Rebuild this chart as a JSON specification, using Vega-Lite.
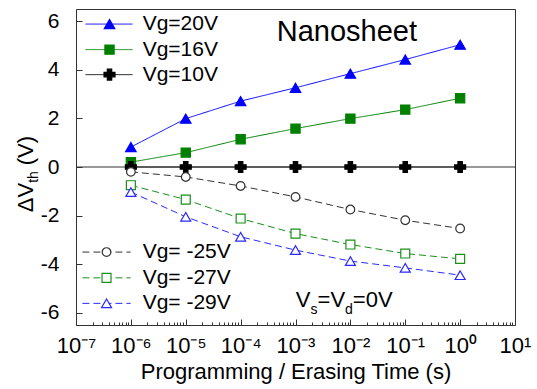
{
  "$schema": "https://vega.github.io/schema/vega-lite/v6.json",
  "width": 439,
  "height": 316,
  "autosize": {"type": "none"},
  "padding": {"left": 76, "top": 9, "right": 22, "bottom": 64},
  "background": "white",
  "data": {"values": [{"note": "annotation"}]},
  "config": {
    "view": {"stroke": "#333333", "strokeWidth": 1},
    "font": "Liberation Sans",
    "axis": {"grid": false, "domain": false}
  },
  "datasets": {
    "main": [
      {"t": 1e-6, "dv": 0.82, "s": "Vg=20V"},
      {"t": 1e-5, "dv": 1.99, "s": "Vg=20V"},
      {"t": 1e-4, "dv": 2.71, "s": "Vg=20V"},
      {"t": 1e-3, "dv": 3.26, "s": "Vg=20V"},
      {"t": 1e-2, "dv": 3.84, "s": "Vg=20V"},
      {"t": 1e-1, "dv": 4.42, "s": "Vg=20V"},
      {"t": 1, "dv": 5.03, "s": "Vg=20V"},
      {"t": 1e-6, "dv": 0.20, "s": "Vg=16V"},
      {"t": 1e-5, "dv": 0.59, "s": "Vg=16V"},
      {"t": 1e-4, "dv": 1.14, "s": "Vg=16V"},
      {"t": 1e-3, "dv": 1.58, "s": "Vg=16V"},
      {"t": 1e-2, "dv": 1.99, "s": "Vg=16V"},
      {"t": 1e-1, "dv": 2.36, "s": "Vg=16V"},
      {"t": 1, "dv": 2.83, "s": "Vg=16V"},
      {"t": 1e-6, "dv": 0, "s": "Vg=10V"},
      {"t": 1e-5, "dv": 0, "s": "Vg=10V"},
      {"t": 1e-4, "dv": 0, "s": "Vg=10V"},
      {"t": 1e-3, "dv": 0, "s": "Vg=10V"},
      {"t": 1e-2, "dv": 0, "s": "Vg=10V"},
      {"t": 1e-1, "dv": 0, "s": "Vg=10V"},
      {"t": 1, "dv": 0, "s": "Vg=10V"},
      {"t": 1e-6, "dv": -0.20, "s": "Vg= -25V"},
      {"t": 1e-5, "dv": -0.41, "s": "Vg= -25V"},
      {"t": 1e-4, "dv": -0.78, "s": "Vg= -25V"},
      {"t": 1e-3, "dv": -1.23, "s": "Vg= -25V"},
      {"t": 1e-2, "dv": -1.75, "s": "Vg= -25V"},
      {"t": 1e-1, "dv": -2.19, "s": "Vg= -25V"},
      {"t": 1, "dv": -2.53, "s": "Vg= -25V"},
      {"t": 1e-6, "dv": -0.75, "s": "Vg= -27V"},
      {"t": 1e-5, "dv": -1.34, "s": "Vg= -27V"},
      {"t": 1e-4, "dv": -2.12, "s": "Vg= -27V"},
      {"t": 1e-3, "dv": -2.74, "s": "Vg= -27V"},
      {"t": 1e-2, "dv": -3.19, "s": "Vg= -27V"},
      {"t": 1e-1, "dv": -3.56, "s": "Vg= -27V"},
      {"t": 1, "dv": -3.78, "s": "Vg= -27V"},
      {"t": 1e-6, "dv": -1.03, "s": "Vg= -29V"},
      {"t": 1e-5, "dv": -2.05, "s": "Vg= -29V"},
      {"t": 1e-4, "dv": -2.87, "s": "Vg= -29V"},
      {"t": 1e-3, "dv": -3.42, "s": "Vg= -29V"},
      {"t": 1e-2, "dv": -3.87, "s": "Vg= -29V"},
      {"t": 1e-1, "dv": -4.15, "s": "Vg= -29V"},
      {"t": 1, "dv": -4.45, "s": "Vg= -29V"}
    ],
    "legend": [
      {"s": "Vg=20V", "g": "top", "y": 5.88},
      {"s": "Vg=16V", "g": "top", "y": 4.83},
      {"s": "Vg=10V", "g": "top", "y": 3.80},
      {"s": "Vg= -25V", "g": "bottom", "y": -3.50},
      {"s": "Vg= -27V", "g": "bottom", "y": -4.56},
      {"s": "Vg= -29V", "g": "bottom", "y": -5.61}
    ]
  },
  "layer": [
    {
      "data": {"name": "main"},
      "mark": {"type": "line", "strokeWidth": 1},
      "encoding": {
        "x": {
          "field": "t", "type": "quantitative",
          "scale": {"type": "log", "domain": [1e-7, 10], "nice": false},
          "axis": {
            "values": [1e-7, 2e-7, 3e-7, 4e-7, 5e-7, 6e-7, 7e-7, 8e-7, 9e-7,
                       1e-6, 2e-6, 3e-6, 4e-6, 5e-6, 6e-6, 7e-6, 8e-6, 9e-6,
                       1e-5, 2e-5, 3e-5, 4e-5, 5e-5, 6e-5, 7e-5, 8e-5, 9e-5,
                       1e-4, 2e-4, 3e-4, 4e-4, 5e-4, 6e-4, 7e-4, 8e-4, 9e-4,
                       1e-3, 2e-3, 3e-3, 4e-3, 5e-3, 6e-3, 7e-3, 8e-3, 9e-3,
                       1e-2, 2e-2, 3e-2, 4e-2, 5e-2, 6e-2, 7e-2, 8e-2, 9e-2,
                       1e-1, 2e-1, 3e-1, 4e-1, 5e-1, 6e-1, 7e-1, 8e-1, 9e-1,
                       1, 2, 3, 4, 5, 6, 7, 8, 9, 10],
            "labelExpr": "abs(log(datum.value)/LN10 - round(log(datum.value)/LN10)) < 0.001 ? '10' + ['⁻⁷','⁻⁶','⁻⁵','⁻⁴','⁻³','⁻²','⁻¹','⁰','¹'][round(log(datum.value)/LN10) + 7] : ''",
            "tickSize": {"condition": {"test": "abs(log(datum.value)/LN10 - round(log(datum.value)/LN10)) < 0.001", "value": -6}, "value": -3},
            "tickColor": "#333333",
            "labelFontSize": 22,
            "labelColor": "black",
            "labelFlush": false,
            "labelOverlap": false,
            "labelPadding": 16,
            "title": "Programming / Erasing Time (s)",
            "titleFontSize": 22,
            "titleFontWeight": "normal",
            "titleColor": "black",
            "titlePadding": 2
          }
        },
        "y": {
          "field": "dv", "type": "quantitative",
          "scale": {"domain": [-6.5, 6.5], "nice": false, "zero": false},
          "axis": {
            "values": [-6, -4, -2, 0, 2, 4, 6],
            "labelExpr": "'' + datum.value",
            "tickSize": -6,
            "tickColor": "#333333",
            "labelFontSize": 21,
            "labelColor": "black",
            "labelPadding": 23,
            "labelFlush": false,
            "title": null
          }
        },
        "detail": {"field": "s", "type": "nominal"},
        "stroke": {
          "field": "s", "type": "nominal", "legend": null,
          "scale": {"domain": ["Vg=20V", "Vg=16V", "Vg=10V", "Vg= -25V", "Vg= -27V", "Vg= -29V"],
                    "range": ["#0000ff", "#008000", "#000000", "#333333", "#1a8f1a", "#2a2aff"]}
        },
        "strokeDash": {
          "field": "s", "type": "nominal", "legend": null,
          "scale": {"domain": ["Vg=20V", "Vg=16V", "Vg=10V", "Vg= -25V", "Vg= -27V", "Vg= -29V"],
                    "range": [[1, 0], [1, 0], [1, 0], [7, 4], [7, 4], [7, 4]]}
        }
      }
    },
    {
      "mark": {"type": "rule", "color": "#333333", "strokeWidth": 1},
      "encoding": {
        "y": {"datum": 0, "type": "quantitative"}
      }
    },
    {
      "data": {"name": "main"},
      "mark": {"type": "point", "filled": true, "strokeWidth": 1.2, "opacity": 1},
      "encoding": {
        "x": {"field": "t", "type": "quantitative"},
        "y": {"field": "dv", "type": "quantitative"},
        "shape": {
          "field": "s", "type": "nominal", "legend": null,
          "scale": {"domain": ["Vg=20V", "Vg=16V", "Vg=10V", "Vg= -25V", "Vg= -27V", "Vg= -29V"],
                    "range": ["triangle-up", "square", "cross", "circle", "square", "triangle-up"]}
        },
        "fill": {
          "field": "s", "type": "nominal", "legend": null,
          "scale": {"domain": ["Vg=20V", "Vg=16V", "Vg=10V", "Vg= -25V", "Vg= -27V", "Vg= -29V"],
                    "range": ["#0000ff", "#008000", "#000000", "#ffffff", "#ffffff", "#ffffff"]}
        },
        "stroke": {"field": "s", "type": "nominal", "legend": null},
        "size": {
          "field": "s", "type": "nominal", "legend": null,
          "scale": {"type": "ordinal", "domain": ["Vg=20V", "Vg=16V", "Vg=10V", "Vg= -25V", "Vg= -27V", "Vg= -29V"],
                    "range": [110, 85, 120, 75, 80, 100]}
        }
      }
    },
    {
      "data": {"name": "legend"},
      "transform": [{"filter": "datum.g == 'top'"}],
      "mark": {"type": "rule", "strokeWidth": 1},
      "encoding": {
        "x": {"datum": 1.49e-7, "type": "quantitative"},
        "x2": {"datum": 1.07e-6},
        "y": {"field": "y", "type": "quantitative"},
        "stroke": {"field": "s", "type": "nominal", "legend": null},
        "strokeDash": {"field": "s", "type": "nominal", "legend": null}
      }
    },
    {
      "data": {"name": "legend"},
      "transform": [{"filter": "datum.g == 'bottom'"}],
      "mark": {"type": "rule", "strokeWidth": 1},
      "encoding": {
        "x": {"datum": 1.31e-7, "type": "quantitative"},
        "x2": {"datum": 9.9e-7},
        "y": {"field": "y", "type": "quantitative"},
        "stroke": {"field": "s", "type": "nominal", "legend": null},
        "strokeDash": {"field": "s", "type": "nominal", "legend": null}
      }
    },
    {
      "data": {"name": "legend"},
      "transform": [{"filter": "datum.g == 'top'"}],
      "mark": {"type": "point", "filled": true, "strokeWidth": 1.2, "opacity": 1},
      "encoding": {
        "x": {"datum": 4.08e-7, "type": "quantitative"},
        "y": {"field": "y", "type": "quantitative"},
        "shape": {"field": "s", "type": "nominal", "legend": null},
        "fill": {"field": "s", "type": "nominal", "legend": null},
        "stroke": {"field": "s", "type": "nominal", "legend": null},
        "size": {
          "field": "s", "type": "nominal", "legend": null,
          "scale": {"type": "ordinal", "domain": ["Vg=20V", "Vg=16V", "Vg=10V", "Vg= -25V", "Vg= -27V", "Vg= -29V"],
                    "range": [110, 85, 120, 75, 80, 100]}
        }
      }
    },
    {
      "data": {"name": "legend"},
      "transform": [{"filter": "datum.g == 'bottom'"}],
      "mark": {"type": "point", "filled": true, "strokeWidth": 1.2, "opacity": 1},
      "encoding": {
        "x": {"datum": 3.6e-7, "type": "quantitative"},
        "y": {"field": "y", "type": "quantitative"},
        "shape": {"field": "s", "type": "nominal", "legend": null},
        "fill": {"field": "s", "type": "nominal", "legend": null},
        "stroke": {"field": "s", "type": "nominal", "legend": null},
        "size": {
          "field": "s", "type": "nominal", "legend": null,
          "scale": {"type": "ordinal", "domain": ["Vg=20V", "Vg=16V", "Vg=10V", "Vg= -25V", "Vg= -27V", "Vg= -29V"],
                    "range": [110, 85, 120, 75, 80, 100]}
        }
      }
    },
    {
      "data": {"name": "legend"},
      "mark": {"type": "text", "align": "left", "baseline": "middle", "fontSize": 21, "color": "black"},
      "encoding": {
        "x": {"datum": 1.64e-6, "type": "quantitative"},
        "y": {"field": "y", "type": "quantitative"},
        "text": {"field": "s", "type": "nominal"}
      }
    },
    {
      "mark": {"type": "text", "text": "Nanosheet", "align": "left", "baseline": "alphabetic", "fontSize": 29, "color": "black"},
      "encoding": {
        "x": {"datum": 4.56e-4, "type": "quantitative"},
        "y": {"datum": 5.2, "type": "quantitative"}
      }
    },
    {
      "mark": {"type": "text", "text": "V", "align": "left", "baseline": "alphabetic", "fontSize": 22, "color": "black"},
      "encoding": {
        "x": {"datum": 1.013e-3, "type": "quantitative"},
        "y": {"datum": -5.78, "type": "quantitative"}
      }
    },
    {
      "mark": {"type": "text", "text": "s", "align": "left", "baseline": "alphabetic", "fontSize": 14, "color": "black"},
      "encoding": {
        "x": {"datum": 1.878e-3, "type": "quantitative"},
        "y": {"datum": -6.03, "type": "quantitative"}
      }
    },
    {
      "mark": {"type": "text", "text": "=V", "align": "left", "baseline": "alphabetic", "fontSize": 22, "color": "black"},
      "encoding": {
        "x": {"datum": 2.521e-3, "type": "quantitative"},
        "y": {"datum": -5.78, "type": "quantitative"}
      }
    },
    {
      "mark": {"type": "text", "text": "d", "align": "left", "baseline": "alphabetic", "fontSize": 14, "color": "black"},
      "encoding": {
        "x": {"datum": 8.0e-3, "type": "quantitative"},
        "y": {"datum": -6.03, "type": "quantitative"}
      }
    },
    {
      "mark": {"type": "text", "text": "=0V", "align": "left", "baseline": "alphabetic", "fontSize": 22, "color": "black"},
      "encoding": {
        "x": {"datum": 1.11e-2, "type": "quantitative"},
        "y": {"datum": -5.78, "type": "quantitative"}
      }
    },
    {
      "mark": {"type": "text", "text": "ΔV", "align": "left", "baseline": "alphabetic", "angle": 270, "fontSize": 22, "color": "black"},
      "encoding": {
        "x": {"datum": 1.677e-8, "type": "quantitative"},
        "y": {"datum": -1.86, "type": "quantitative"}
      }
    },
    {
      "mark": {"type": "text", "text": "th", "align": "left", "baseline": "alphabetic", "angle": 270, "fontSize": 14, "color": "black"},
      "encoding": {
        "x": {"datum": 2.07e-8, "type": "quantitative"},
        "y": {"datum": -0.65, "type": "quantitative"}
      }
    },
    {
      "mark": {"type": "text", "text": "(V)", "align": "left", "baseline": "alphabetic", "angle": 270, "fontSize": 22, "color": "black"},
      "encoding": {
        "x": {"datum": 1.677e-8, "type": "quantitative"},
        "y": {"datum": 0.07, "type": "quantitative"}
      }
    }
  ]
}
